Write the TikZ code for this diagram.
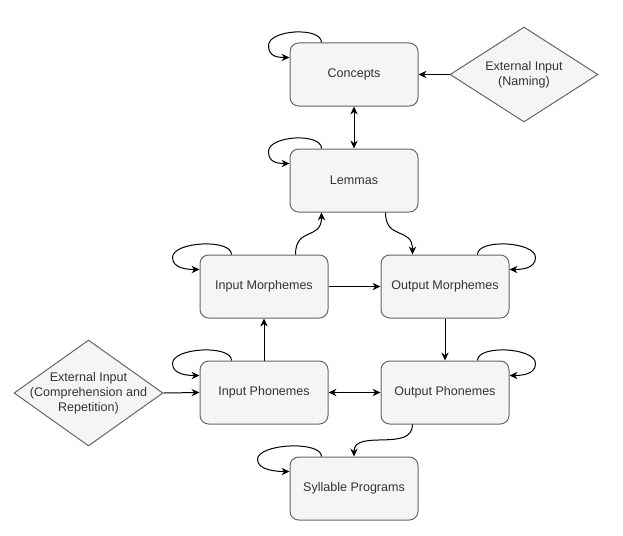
\documentclass[tikz,border=0pt]{standalone}
\usepackage{fontspec}
\setmainfont{Liberation Sans}
\usetikzlibrary{arrows.meta,calc,shapes.geometric}
\definecolor{boxfill}{HTML}{F5F5F5}
\definecolor{boxline}{HTML}{666666}
\definecolor{txt}{HTML}{333333}
\newcommand{\loopL}[2]{\draw[->] ($(#1.north west)+(32,0)$) .. controls +(0,-16) and +(0,-16) .. ($(#1.north west)+(-#2,3)$) .. controls +(0,11) and +(-12,0) .. ($(#1.north west)+(0,15)$);}
\newcommand{\loopR}[2]{\draw[->] ($(#1.north east)+(-32,0)$) .. controls +(0,-16) and +(0,-16) .. ($(#1.north east)+(#2,3)$) .. controls +(0,11) and +(12,0) .. ($(#1.north east)+(0,15)$);}
\begin{document}
\begin{tikzpicture}[x=0.75pt,y=-0.75pt,
  >={Stealth[length=6pt,width=5.5pt,inset=2pt]},
  every path/.style={line width=0.75pt},
  box/.style={draw=boxline,fill=boxfill,rounded corners=6.5pt,minimum width=96pt,minimum height=47.25pt,inner sep=0pt,text=txt,font=\fontsize{9.4pt}{11.25pt}\selectfont},
  dia/.style={draw=boxline,fill=boxfill,diamond,inner sep=0pt},
  dtext/.style={align=center,text=txt,inner sep=0pt,font=\fontsize{9.4pt}{11.25pt}\selectfont}]
\useasboundingbox (0,0) rectangle (623,535);
\node[box] (con) at (354,74.5) {Concepts};
\node[box] (lem) at (354,180.5) {Lemmas};
\node[box] (im) at (264,286.5) {Input Morphemes};
\node[box] (om) at (445,286.5) {Output Morphemes};
\node[box] (ip) at (264,392.5) {Input Phonemes};
\node[box] (op) at (445,392.5) {Output Phonemes};
\node[box] (sp) at (354,488.5) {Syllable Programs};
\node[dia,minimum width=111pt,minimum height=71.25pt] (dn) at (524,74.5) {};
\node[dtext] (dnt) at (dn) {External Input\\(Naming)};
\node[dia,minimum width=111.75pt,minimum height=79.5pt] (dc) at (88.5,393) {};
\node[dtext] (dct) at (dc) {External Input\\(Comprehension and\\Repetition)};
\draw[->] (dn.west) -- (con.east);
\draw[<->] (con.south) -- (lem.north);
\draw[->] ($(im.north west)+(96,0)$) .. controls +(0,-28) and +(0,28) .. ($(lem.south west)+(32,0)$);
\draw[->] ($(lem.south west)+(96,0)$) .. controls +(0,28) and +(0,-28) .. ($(om.north west)+(32,0)$);
\draw[->] (im.east) -- (om.west);
\draw[->] (ip.north) -- (im.south);
\draw[->] (om.south) -- (op.north);
\draw[<->] (ip.east) -- (op.west);
\draw[->] (dc.east) -- (ip.west);
\draw[->] ($(op.south west)+(32,0)$) .. controls +(0,28) and +(0,-28) .. (sp.north);
\loopL{con}{21}
\loopL{lem}{21}
\loopL{im}{27}
\loopL{ip}{27}
\loopL{sp}{32}
\loopR{om}{26}
\loopR{op}{26}
\end{tikzpicture}
\end{document}
